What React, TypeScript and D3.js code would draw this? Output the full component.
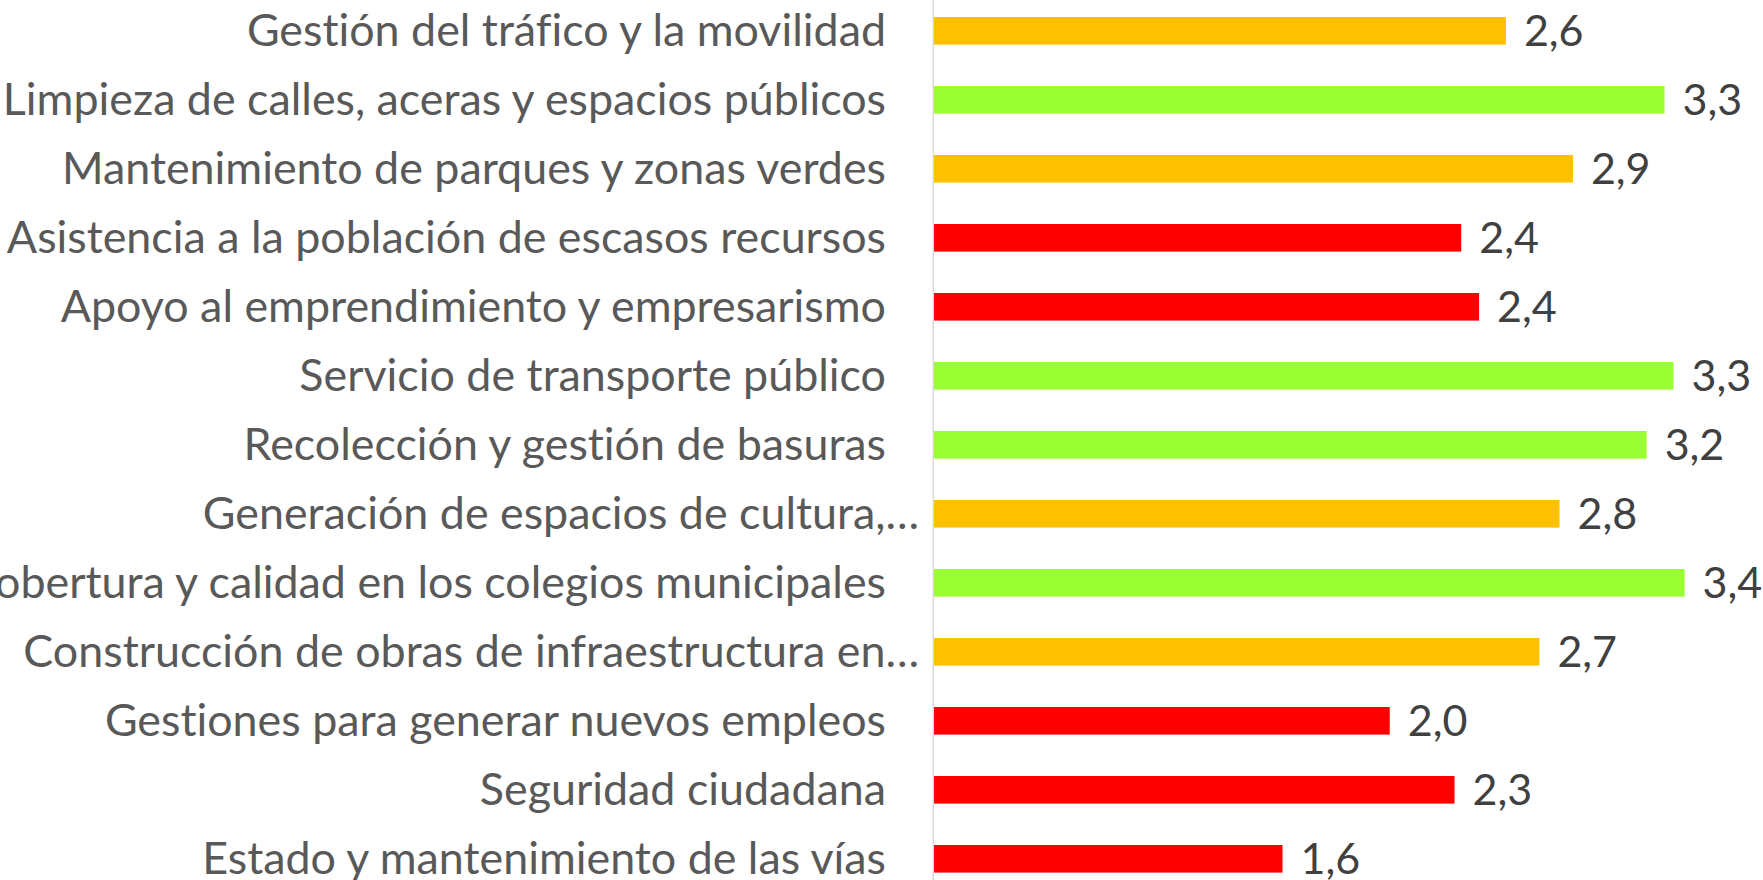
import React, { useEffect, useRef } from "react";
import * as d3 from "d3";

// categories from top to bottom
const categories = [
  "Gestión del tráfico y la movilidad",
  "Limpieza de calles, aceras y espacios públicos",
  "Mantenimiento de parques y zonas verdes",
  "Asistencia a la población de escasos recursos",
  "Apoyo al emprendimiento y empresarismo",
  "Servicio de transporte público",
  "Recolección y gestión de basuras",
  "Generación de espacios de cultura,…",
  "Cobertura y calidad en los colegios municipales",
  "Construcción de obras de infraestructura en…",
  "Gestiones para generar nuevos empleos",
  "Seguridad ciudadana",
  "Estado y mantenimiento de las vías",
];

const values = [2.56, 3.27, 2.86, 2.36, 2.44, 3.31, 3.19, 2.8, 3.36, 2.71, 2.04, 2.33, 1.56];

const thresholds = [2.5, 3.0];
const colors = ["#FF0000", "#FFC000", "#99FF33"];

const WIDTH = 1763;
const HEIGHT = 880;

const App = () => {
  const chartRef = useRef<SVGSVGElement>(null);

  useEffect(() => {
    const svg = d3.select(chartRef.current);
    svg.selectAll("*").remove();

    const x0 = 934;
    const xScale = d3.scaleLinear().domain([0, 3.5]).range([x0, x0 + 223.4 * 3.5]);

    const step = 69;
    const top = 17 - 0.3 * step;
    const yScale = d3
      .scaleBand()
      .domain(categories)
      .range([top, top + step * categories.length])
      .paddingInner(0.6)
      .paddingOuter(0.3);

    const color = d3.scaleThreshold<number, string>().domain(thresholds).range(colors);

    // Bars
    svg
      .selectAll("rect.bar")
      .data(categories)
      .enter()
      .append("rect")
      .attr("class", "bar")
      .attr("x", xScale(0))
      .attr("y", (d) => yScale(d)!)
      .attr("width", (d, i) => xScale(values[i]) - xScale(0))
      .attr("height", yScale.bandwidth())
      .attr("fill", (d, i) => color(values[i]));

    // Axis line
    svg
      .append("line")
      .attr("x1", x0 - 0.7)
      .attr("x2", x0 - 0.7)
      .attr("y1", 0)
      .attr("y2", HEIGHT)
      .attr("stroke", "#d9d9d9")
      .attr("stroke-width", 1.5);

    // Category labels
    svg
      .selectAll("text.cat")
      .data(categories)
      .enter()
      .append("text")
      .attr("class", "cat")
      .attr("x", (d) => (d.endsWith("…") ? 919 : 886))
      .attr("y", (d) => yScale(d)! + yScale.bandwidth() / 2)
      .attr("dy", "0.35em")
      .attr("text-anchor", "end")
      .style("font-family", "Lato, sans-serif")
      .style("font-size", "44.8px")
      .style("font-variant-ligatures", "none")
      .style("fill", "#595959")
      .text((d) => d);

    // Value labels
    svg
      .selectAll("text.val")
      .data(categories)
      .enter()
      .append("text")
      .attr("class", "val")
      .attr("x", (d, i) => xScale(values[i]) + 18)
      .attr("y", (d) => yScale(d)! + yScale.bandwidth() / 2)
      .attr("dy", "0.36em")
      .style("font-family", "Lato, sans-serif")
      .style("font-size", "43px")
      .style("fill", "#404040")
      .text((d, i) => d3.format(".1f")(values[i]).replace(".", ","));
  }, []);

  return (
    <svg
      ref={chartRef}
      width={WIDTH}
      height={HEIGHT}
      style={{ position: "absolute", left: 0, top: 0, background: "#fff" }}
    ></svg>
  );
};

export default App;
